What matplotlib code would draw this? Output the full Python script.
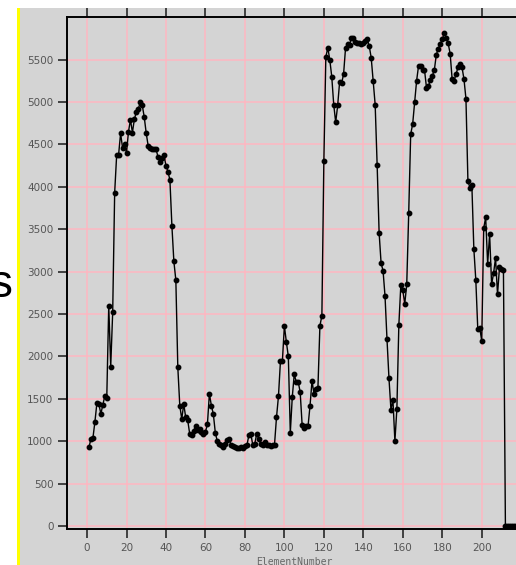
import numpy as np
import matplotlib
matplotlib.use("Agg")
import matplotlib.pyplot as plt
from matplotlib.patches import Rectangle

# values, element 1 onwards
values = [
    930, 1030, 1040, 1230, 1450, 1440, 1320, 1430, 1530, 1510,
    2600, 1880, 2520, 3930, 4370, 4380, 4630, 4460, 4510, 4400,
    4650, 4790, 4640, 4800, 4880, 4920, 5000, 4960, 4820, 4630,
    4480, 4460, 4450, 4450, 4440, 4350, 4290, 4340, 4370, 4250,
    4180, 4080, 3540, 3120, 2900, 1870, 1420, 1260, 1440, 1280,
    1250, 1090, 1070, 1120, 1180, 1130, 1140, 1110, 1090, 1110,
    1200, 1560, 1420, 1320, 1100, 1000, 970, 950, 930, 970,
    1010, 1030, 950, 940, 930, 920, 920, 930, 920, 940,
    950, 1070, 1090, 950, 970, 1090, 1030, 970, 950, 990,
    960, 950, 940, 950, 960, 1280, 1530, 1940, 1950, 2360,
    2170, 2000, 1100, 1520, 1790, 1700, 1700, 1580, 1190, 1160,
    1180, 1180, 1420, 1710, 1560, 1610, 1630, 2360, 2480, 4300,
    5530, 5640, 5500, 5300, 4970, 4760, 4960, 5240, 5220, 5330,
    5640, 5680, 5670, 5760, 5750, 5710, 5700, 5690, 5680, 5690,
    5720, 5740, 5660, 5520, 5250, 4970, 4260, 3460, 3100, 3010,
    2710, 2200, 1740, 1370, 1490, 1000, 1380, 2370, 2840, 2780,
    2620, 2850, 3690, 4620, 4740, 5000, 5250, 5430, 5430, 5380,
    5380, 5170, 5190, 5260, 5310, 5380, 5560, 5630, 5680, 5740,
    5810, 5760, 5690, 5570, 5270, 5250, 5330, 5410, 5450, 5410,
    5270, 5040, 4070, 3990, 4020, 3270, 2900, 2320, 2340, 2180,
    3510, 3640, 3090, 3440, 2850, 2980, 3160, 2730, 3050, 3030,
    3020, 0, 0, 0, 0, 0, 0, 0, 0, 0,
]
element_number = np.arange(1, len(values) + 1)

x_ticks = [0, 20, 40, 60, 80, 100, 120, 140, 160, 180, 200, 220]
x_tick_labels = ["0", "20", "40", "60", "80", "100", "120", "140", "160", "180", "200", ""]
y_ticks = [0, 500, 1000, 1500, 2000, 2500, 3000, 3500, 4000, 4500, 5000, 5500]

W, H = 516, 565
fig = plt.figure(figsize=(W / 100, H / 100), dpi=100)
fig.patch.set_facecolor("white")

bg = "#d4d4d4"
# grey panel and the yellow edge on its left (behind the axes)
fig.patches.append(Rectangle((20 / W, 0), 1, (H - 8) / H, transform=fig.transFigure,
                             facecolor=bg, edgecolor="none", zorder=-10))
fig.patches.append(Rectangle((16.5 / W, 0), 3 / W, (H - 8) / H, transform=fig.transFigure,
                             facecolor="#ffff00", edgecolor="none", zorder=-10))
fig.text(13 / W, 1 - 285 / H, "s", ha="right", va="center", fontsize=33,
         family="Liberation Sans", color="black")

left, right = 67.3 / W, 521.2 / W
bottom, top = (H - 528.7) / H, (H - 16.7) / H
ax = fig.add_axes([left, bottom, right - left, top - bottom])
ax.set_zorder(1)
ax.set_facecolor(bg)

ax.plot(element_number, values, color="black", lw=1.0, marker="o", ms=3.2,
        mfc="black", mec="black", zorder=3)

ax.set_xlim(-10, 220)
ax.set_ylim(-32, 6006)
ax.set_xticks(x_ticks)
ax.set_xticklabels(x_tick_labels)
ax.set_yticks(y_ticks)
ax.grid(True, color="#ffb6c1", lw=1.1, zorder=1)
ax.set_axisbelow(True)

for s in ["left", "top", "bottom"]:
    ax.spines[s].set_linewidth(1.4)
    ax.spines[s].set_color("black")

ax.tick_params(axis="both", direction="out", length=6.5, width=1.4, color="#404040",
               labelcolor="#555555", labelsize=7.5, pad=3.5)
ax.tick_params(axis="x", top=True, labeltop=False)

ax.set_xlabel("ElementNumber", family="DejaVu Sans Mono", fontsize=7,
              color="#666666", labelpad=3)

fig.savefig("out.png", dpi=100)
